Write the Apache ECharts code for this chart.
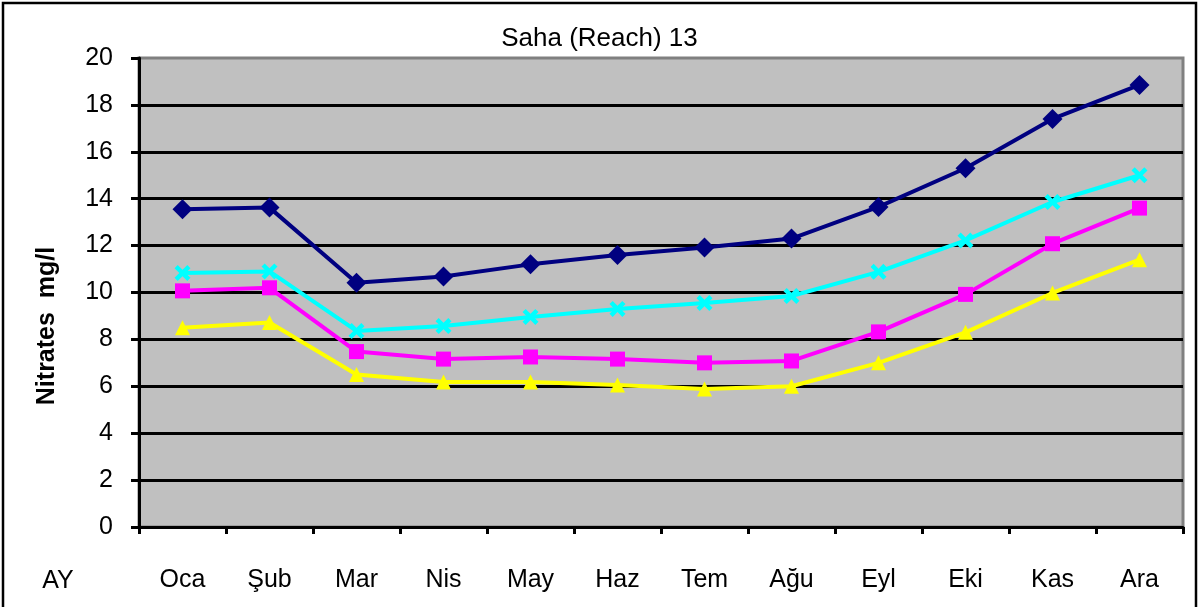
<!DOCTYPE html>
<html>
<head>
<meta charset="utf-8">
<script src="https://cdn.jsdelivr.net/npm/echarts@6/dist/echarts.min.js"></script>
<style>
html,body{margin:0;padding:0;background:#fff;}
#chart{width:1199px;height:607px;}
</style>
</head>
<body>
<div id="chart"></div>
<script>
const months = ['Oca','Şub','Mar','Nis','May','Haz','Tem','Ağu','Eyl','Eki','Kas','Ara'];
const yTicks = [0,2,4,6,8,10,12,14,16,18,20];
const seriesNavy = [13.55,13.62,10.42,10.68,11.2,11.6,11.92,12.3,13.65,15.3,17.4,18.85];
const seriesCyan = [10.83,10.9,8.36,8.57,8.96,9.3,9.55,9.85,10.88,12.22,13.86,15.0];
const seriesMagenta = [10.07,10.2,7.48,7.16,7.25,7.16,7.0,7.08,8.32,9.92,12.08,13.6];
const seriesYellow = [8.5,8.72,6.5,6.18,6.18,6.06,5.88,6.0,7.0,8.3,9.98,11.4];

const FONT = '"Liberation Sans", Arial, sans-serif';
const xPath = 'path://M0,2L2,0L5,3L8,0L10,2L7,5L10,8L8,10L5,7L2,10L0,8L3,5Z';

const chart = echarts.init(document.getElementById('chart'));
function mk(name, data, color, symbol, size) {
  return {
    name: name, type: 'line', data: data,
    symbol: symbol, symbolSize: size,
    lineStyle: {color: color, width: 4},
    itemStyle: {color: color},
    animation: false
  };
}
chart.setOption({
  animation: false,
  title: {
    text: 'Saha (Reach) 13', left: 'center', top: 21,
    textStyle: {fontFamily: FONT, fontSize: 26, fontWeight: 'normal', color: '#000'}
  },
  grid: {
    left: 139, right: 16, top: 58, bottom: 80,
    show: true, backgroundColor: '#C0C0C0', borderColor: '#808080', borderWidth: 3
  },
  xAxis: {
    type: 'category', data: months, boundaryGap: true,
    axisLine: {lineStyle: {color: '#000', width: 3}},
    axisTick: {show: true, length: 7, lineStyle: {color: '#000', width: 3}},
    axisLabel: {fontFamily: FONT, fontSize: 25, color: '#000', margin: 41},
    splitLine: {show: false}
  },
  yAxis: {
    type: 'value', min: yTicks[0], max: yTicks[yTicks.length-1], interval: 2,
    axisLine: {show: true, lineStyle: {color: '#000', width: 3}},
    axisTick: {show: true, inside: false, length: 8, lineStyle: {color: '#000', width: 3}},
    axisLabel: {fontFamily: FONT, fontSize: 25, color: '#000', margin: 26},
    splitLine: {show: true, showMaxLine: false, lineStyle: {color: '#000', width: 3}}
  },
  graphic: [
    {type: 'rect', shape: {x: 3, y: 3, width: 1193, height: 640}, style: {fill: 'none', stroke: '#000', lineWidth: 2.5}, silent: true, z: 100},
    {type: 'text', x: 47, y: 326, rotation: Math.PI/2,
     style: {text: 'Nitrates  mg/l', fontFamily: FONT, fontSize: 25, fontWeight: 'bold', fill: '#000', textAlign: 'center', textVerticalAlign: 'middle'}},
    {type: 'text', x: 58, y: 581,
     style: {text: 'AY', fontFamily: FONT, fontSize: 25, fill: '#000', textAlign: 'center', textVerticalAlign: 'middle'}}
  ],
  series: [
    mk('Seri 1', seriesNavy, '#000080', 'diamond', 20),
    mk('Seri 2', seriesCyan, '#00FFFF', xPath, 16),
    mk('Seri 3', seriesMagenta, '#FF00FF', 'rect', 15),
    mk('Seri 4', seriesYellow, '#FFFF00', 'triangle', 15)
  ]
});
</script>
</body>
</html>
